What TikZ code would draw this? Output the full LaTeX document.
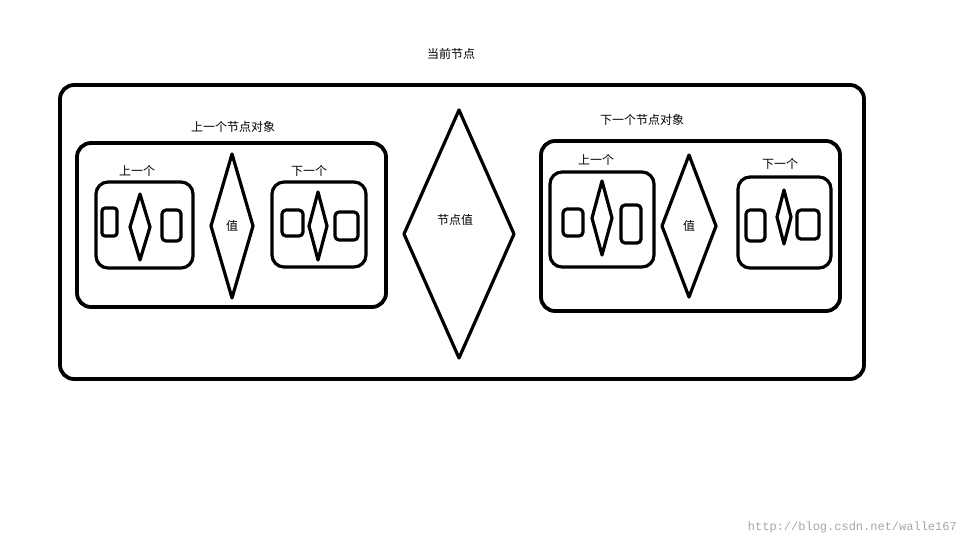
\documentclass[tikz,border=0pt]{standalone}
\usepackage{fontspec}
\newfontfamily\cjk{Noto Sans CJK SC}
\setmonofont{Liberation Mono}
\newcommand\mydia[5]{\draw[#5] (#1-#3,#2) -- (#1,#2-#4) -- (#1+#3,#2) -- (#1,#2+#4) -- cycle;}
\begin{document}
\begin{tikzpicture}[x=1pt,y=-1pt,line join=round,
  thick4/.style={line width=3.8pt},
  thick3/.style={line width=3.2pt},
  lbl/.style={font=\cjk\fontsize{12}{14}\selectfont,inner sep=0pt}]
\useasboundingbox (0,0) rectangle (968,547);
\node[lbl] (t) at (451,54) {当前节点};
\draw[thick4,rounded corners=14pt] (60,85) rectangle (864,379);
\mydia{459}{234}{55}{124}{thick3}
\node[lbl] (v) at (455,220) {节点值};
% left object
\node[lbl] (lo) at (233,127) {上一个节点对象};
\draw[thick4,rounded corners=14pt] (77,143) rectangle (386,307);
\node[lbl] (l1) at (137,171) {上一个};
\draw[thick3,rounded corners=12pt] (96,182) rectangle (193,268);
\draw[thick3,rounded corners=3pt] (102,208) rectangle (117,236);
\mydia{140}{227}{10}{33}{thick3}
\draw[thick3,rounded corners=4pt] (162,210) rectangle (181,241);
\mydia{232}{226}{21}{72}{thick3}
\node[lbl] (lv) at (232,226) {值};
\node[lbl] (l2) at (309,171) {下一个};
\draw[thick3,rounded corners=12pt] (272,182) rectangle (366,267);
\draw[thick3,rounded corners=4pt] (282,210) rectangle (303,236);
\mydia{318}{226}{9}{34}{thick3}
\draw[thick3,rounded corners=4pt] (335,212) rectangle (358,240);
% right object
\node[lbl] (ro) at (642,120) {下一个节点对象};
\draw[thick4,rounded corners=14pt] (541,141) rectangle (840,311);
\node[lbl] (r1) at (596,160) {上一个};
\draw[thick3,rounded corners=12pt] (550,172) rectangle (654,267);
\draw[thick3,rounded corners=4pt] (563,209) rectangle (583,236);
\mydia{602}{218}{10}{37}{thick3}
\draw[thick3,rounded corners=4pt] (621,205) rectangle (641,243);
\mydia{689}{226}{27}{71}{thick3}
\node[lbl] (rv) at (689,226) {值};
\node[lbl] (r2) at (780,164) {下一个};
\draw[thick3,rounded corners=12pt] (738,177) rectangle (831,268);
\draw[thick3,rounded corners=4pt] (746,210) rectangle (765,241);
\mydia{784}{217}{7}{27}{thick3}
\draw[thick3,rounded corners=4pt] (797,210) rectangle (819,239);
\node[font=\ttfamily\fontsize{12}{14}\selectfont,text=black!35,anchor=east,inner sep=0pt] (w) at (957,527) {http://blog.csdn.net/walle167};
\end{tikzpicture}
\end{document}
